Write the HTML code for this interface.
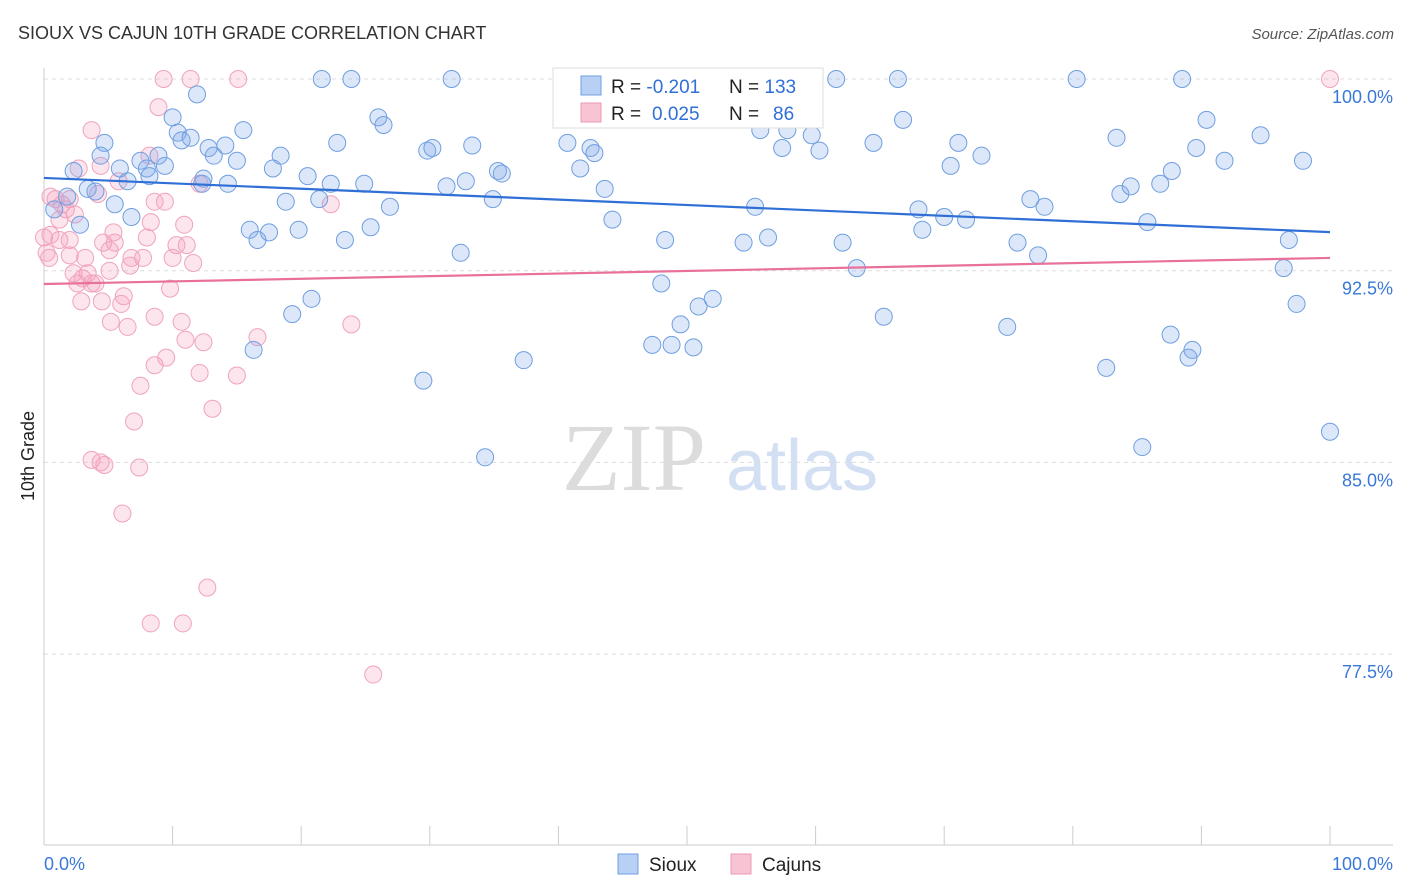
<!DOCTYPE html>
<html><head><meta charset="utf-8">
<style>
body{margin:0;background:#fff;font-family:"Liberation Sans",sans-serif;}
svg{display:block}
</style></head>
<body>
<svg id="chart" width="1406" height="892">
<text x="18" y="39" font-size="18" fill="#333">SIOUX VS CAJUN 10TH GRADE CORRELATION CHART</text>
<text x="1394" y="39" font-size="15" fill="#555" text-anchor="end" font-style="italic">Source: ZipAtlas.com</text>
<g>
<text x="634" y="490" font-size="96" fill="#dcdcdc" font-family="Liberation Serif,serif" text-anchor="middle">ZIP</text>
<text x="802" y="490" font-size="72" fill="#d3e0f3" text-anchor="middle">atlas</text>
</g>
<g id="grid"></g>
<g id="axes"></g>
<g id="pts"></g>
<g id="lines"></g>
<text transform="translate(34,456) rotate(-90)" font-size="18" fill="#222" text-anchor="middle">10th Grade</text>
<g>
<rect x="553" y="68" width="270" height="60" fill="#fff" stroke="#ddd"/>
<rect x="581" y="76" width="20" height="19" fill="#b8d0f3" stroke="#6f9fe0"/>
<rect x="581" y="103" width="20" height="19" fill="#f8c4d4" stroke="#ec9ab5"/>
<text x="611" y="93" font-size="19" fill="#222">R = <tspan fill="#2f6fd6">-0.201</tspan><tspan x="729">N = </tspan><tspan fill="#2f6fd6">133</tspan></text>
<text x="611" y="120" font-size="19" fill="#222">R = <tspan x="652" fill="#2f6fd6">0.025</tspan><tspan x="729">N = </tspan><tspan x="773" fill="#2f6fd6">86</tspan></text>
</g>
<g>
<rect x="618" y="854" width="20" height="20" fill="#b8d0f3" stroke="#6f9fe0"/>
<text x="649" y="871" font-size="19" fill="#222">Sioux</text>
<rect x="731" y="854" width="20" height="20" fill="#f8c4d4" stroke="#ec9ab5"/>
<text x="762" y="871" font-size="19" fill="#222">Cajuns</text>
</g>
</svg>
<script>
const yTicks=[100,92.5,85,77.5];
const yTickLabels=["100.0%","92.5%","85.0%","77.5%"];
const xTickLabels=["0.0%","100.0%"];
const siouxX=[21.6,23.9,31.7,45.5,61.6,66.4,80.3,88.5,42.5,46.8,11.9,10.0,26.0,26.4,15.5,10.4,10.7,4.7,11.4,12.8,14.1,13.2,15.0,18.4,17.8,22.8,29.8,30.2,33.3,40.7,42.5,42.8,41.7,43.6,55.7,57.8,59.7,57.4,60.3,64.5,66.8,71.1,72.9,70.5,83.4,90.4,94.6,89.6,91.8,97.9,87.7,4.4,2.3,5.9,7.5,8.0,9.4,8.9,6.5,8.2,12.4,14.3,12.3,3.4,4.0,1.8,0.8,2.8,5.5,6.8,16.0,16.6,17.5,18.8,19.8,20.5,22.3,21.4,24.9,26.9,25.4,23.4,31.3,32.8,34.9,35.3,35.6,32.4,44.2,48.3,48.0,54.4,56.3,55.3,62.1,63.2,68.0,68.3,70.0,71.7,76.7,77.8,75.7,77.3,83.7,84.5,86.8,85.8,96.8,96.4,97.4,100,85.4,82.6,87.6,89.0,89.3,74.9,65.3,52.0,50.9,49.5,47.3,48.8,50.5,37.3,29.5,34.3,20.8,19.3,16.3];
const siouxY=[100,100,100,100,100,100,100,100,99.8,99.8,99.4,98.5,98.5,98.2,98.0,97.9,97.6,97.5,97.7,97.3,97.4,97.0,96.8,97.0,96.5,97.5,97.2,97.3,97.4,97.5,97.3,97.1,96.5,95.7,98.0,98.0,97.8,97.3,97.2,97.5,98.4,97.5,97.0,96.6,97.7,98.4,97.8,97.3,96.8,96.8,96.4,97.0,96.4,96.5,96.8,96.5,96.6,97.0,96.0,96.2,96.1,95.9,95.9,95.7,95.6,95.4,94.9,94.3,95.1,94.6,94.1,93.7,94.0,95.2,94.1,96.2,95.9,95.3,95.9,95.0,94.2,93.7,95.8,96.0,95.3,96.4,96.3,93.2,94.5,93.7,92.0,93.6,93.8,95.0,93.6,92.6,94.9,94.1,94.6,94.5,95.3,95.0,93.6,93.1,95.5,95.8,95.9,94.4,93.7,92.6,91.2,86.2,85.6,88.7,90.0,89.1,89.4,90.3,90.7,91.4,91.1,90.4,89.6,89.6,89.5,89.0,88.2,85.2,91.4,90.8,89.4];
const cajunX=[9.3,11.4,15.1,100,8.9,3.7,8.2,4.4,2.7,5.8,12.1,0.5,0.9,1.4,2.0,1.7,4.2,9.4,8.6,8.3,2.4,1.2,0,0.5,1.2,2.0,0.2,0.4,2.0,4.6,5.5,5.1,5.4,8.0,10.3,11.1,6.8,6.7,7.7,10.0,11.6,2.3,3.0,3.4,2.6,3.7,4.0,6.2,9.8,2.9,4.5,6.0,5.2,6.5,8.6,10.7,11.0,12.4,16.6,23.9,9.5,8.6,12.1,15.0,7.5,13.1,7.0,3.7,4.4,4.7,7.4,6.1,12.7,8.3,10.8,25.6,22.3,10.9,3.2,5.1];
const cajunY=[100,100,100,100,98.9,98.0,97.0,96.6,96.5,96.0,95.9,95.4,95.3,95.1,95.3,94.9,95.5,95.2,95.2,94.4,94.7,94.5,93.8,93.9,93.7,93.7,93.2,93.0,93.1,93.6,93.6,93.3,94.0,93.8,93.5,93.5,93.0,92.7,93.0,93.0,92.8,92.4,92.2,92.4,92.0,92.0,92.0,91.5,91.8,91.3,91.3,91.2,90.5,90.3,90.7,90.5,89.8,89.7,89.9,90.4,89.1,88.8,88.5,88.4,88.0,87.1,86.6,85.1,85.0,84.9,84.8,83.0,80.1,78.7,78.7,76.7,95.1,94.3,93.0,92.5];
const siouxTrend=[96.13,94.01];
const cajunTrend=[91.98,93.0];

const NS="http://www.w3.org/2000/svg";
const X0=44,X1=1330,YTOP=79,PXPER=25.56;
const sx=v=>X0+(X1-X0)*v/100;
const sy=v=>YTOP+(100-v)*PXPER;
function mk(tag,attrs,parent){const e=document.createElementNS(NS,tag);for(const k in attrs)e.setAttribute(k,attrs[k]);parent.appendChild(e);return e;}
const grid=document.getElementById('grid'),axes=document.getElementById('axes'),pts=document.getElementById('pts'),lines=document.getElementById('lines');
yTicks.forEach((t,i)=>{
 const l=mk('line',{x1:44,x2:1393,y1:sy(t),y2:sy(t),stroke:'#ddd','stroke-dasharray':'4,4'},grid);
 
 
 const tx=mk('text',{x:1393,y:sy(t)+24,'font-size':18,fill:'#3a78d8','text-anchor':'end'},axes);
 tx.textContent=yTickLabels[i];
 
 
});
const la=mk('line',{x1:44,x2:44,y1:68,y2:845,stroke:'#ccc'},axes);


const ba=mk('line',{x1:44,x2:1393,y1:845,y2:845,stroke:'#ccc'},axes);


for(let i=0;i<=10;i++){
 const tk=mk('line',{x1:sx(i*10),x2:sx(i*10),y1:826,y2:845,stroke:'#ccc'},axes);
 
 
}
[[0,'start',44],[100,'end',1393]].forEach((d,i)=>{
 const tx=mk('text',{x:d[2],y:870,'font-size':18,fill:'#3a78d8','text-anchor':d[1]},axes);
 tx.textContent=xTickLabels[i];
 
 
});
cajunX.forEach((x,i)=>{
 const c=mk('circle',{cx:sx(x),cy:sy(cajunY[i]),r:8.5,fill:'rgba(244,160,190,0.28)',stroke:'#f0a3bd','stroke-width':1},pts);
 
 
});
siouxX.forEach((x,i)=>{
 const c=mk('circle',{cx:sx(x),cy:sy(siouxY[i]),r:8.5,fill:'rgba(130,170,235,0.28)',stroke:'#6f9fe0','stroke-width':1},pts);
 
 
});
const t1=mk('line',{x1:sx(0),x2:sx(100),y1:sy(siouxTrend[0]),y2:sy(siouxTrend[1]),stroke:'#2f6fd6','stroke-width':2.2},lines);


const t2=mk('line',{x1:sx(0),x2:sx(100),y1:sy(cajunTrend[0]),y2:sy(cajunTrend[1]),stroke:'#e8709a','stroke-width':2.2},lines);


</script>
</body></html>
